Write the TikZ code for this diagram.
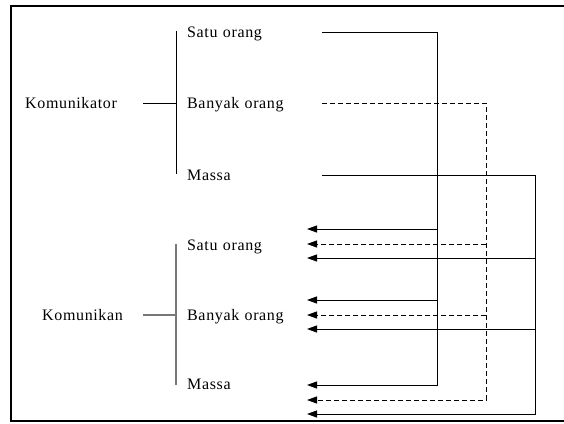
\documentclass[tikz,border=0pt]{standalone}
\usepackage{fontspec}
\setmainfont[LetterSpace=4]{Liberation Serif}
\usetikzlibrary{arrows.meta}
\definecolor{bracegray}{RGB}{120,120,120}
\begin{document}
\begin{tikzpicture}[x=1pt,y=-1pt,
  lbl/.style={font=\fontsize{16}{19}\selectfont, inner sep=0pt,
              text height=13.5pt, text depth=3.5pt, anchor=west, align=left},
  src/.style={lbl, text width=135pt},
  dst/.style={lbl, text width=120pt},
  wire/.style={line width=1pt, black},
  dashwire/.style={wire, dash pattern=on 5pt off 3pt},
  arr/.style={-{Triangle[length=10pt,width=7pt]}},
  frame/.style={line width=1.8pt, black}
]
\useasboundingbox (0,0) rectangle (564,423);

% open frame
\draw[frame] (564,6) -- (11,6) -- (11,421) -- (564,421);

% group labels
\node[lbl, text width=118pt] (kor) at (25,103) {Komunikator};
\node[lbl, text width=101pt] (kan) at (42,315) {Komunikan};

% senders
\node[src] (s1) at (187,32)  {Satu orang};
\node[src] (s2) at (187,103) {Banyak orang};
\node[src] (s3) at (187,175) {Massa};

% receivers
\node[dst] (t1) at (187,245) {Satu orang};
\node[dst] (t2) at (187,315) {Banyak orang};
\node[dst] (t3) at (187,384) {Massa};

% brackets
\coordinate (b1top) at (176,31);
\coordinate (b1bot) at (176,174);
\coordinate (b2top) at (176,244);
\coordinate (b2bot) at (176,385);
\draw[wire] (b1top) -- (b1bot);
\draw[wire] (kor.east) -- (kor.east -| b1top);
\draw[wire, bracegray, line width=1.4pt] (b2top) -- (b2bot);
\draw[wire, bracegray, line width=1.4pt] (kan.east) -- (kan.east -| b2top);

% vertical buses
\coordinate (bA) at (437,0);
\coordinate (bB) at (486,0);
\coordinate (bC) at (535,0);

% arrow ends at the receivers
\coordinate (p1) at (307,229);
\coordinate (q1) at (307,244);
\coordinate (r1) at (307,258);
\coordinate (p2) at (307,300);
\coordinate (q2) at (307,315);
\coordinate (r2) at (307,329);
\coordinate (p3) at (307,385);
\coordinate (q3) at (307,400);
\coordinate (r3) at (307,414);

% Satu orang -> all receivers
\draw[wire, arr] (s1.east) -| (bA |- p3) -- (p3);
\draw[wire, arr] (bA |- p1) -- (p1);
\draw[wire, arr] (bA |- p2) -- (p2);

% Banyak orang -> all receivers
\draw[dashwire, arr] (s2.east) -| (bB |- q3) -- (q3);
\draw[dashwire, arr] (bB |- q1) -- (q1);
\draw[dashwire, arr] (bB |- q2) -- (q2);

% Massa -> all receivers
\draw[wire, arr] (s3.east) -| (bC |- r3) -- (r3);
\draw[wire, arr] (bC |- r1) -- (r1);
\draw[wire, arr] (bC |- r2) -- (r2);
\end{tikzpicture}
\end{document}
